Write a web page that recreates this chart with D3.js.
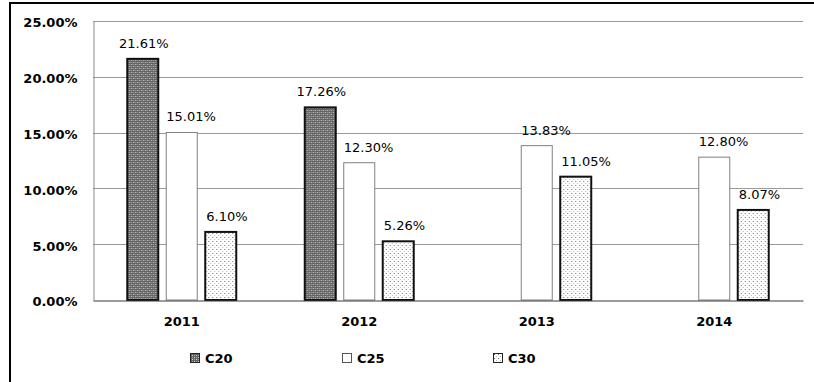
<!DOCTYPE html>
<html>
<head>
<meta charset="utf-8">
<script src="https://cdn.jsdelivr.net/npm/d3@7"></script>
<style>
  html, body { margin: 0; padding: 0; background: #fff; }
  svg { display: block; font-family: "DejaVu Sans", Verdana, sans-serif; }
</style>
</head>
<body>
<svg id="chart" width="814" height="382"></svg>
<script>
// Years on the category axis
const years = ["2011", "2012", "2013", "2014"];
// Series names (concrete grades)
const seriesNames = ["C20", "C25", "C30"];
// Share per year, in percent; null where a grade has no value
const c20Values = [21.61, 17.26, null, null];
const c25Values = [15.01, 12.30, 13.83, 12.80];
const c30Values = [6.10, 5.26, 11.05, 8.07];
// Value-axis ticks
const yTicks = [0, 5, 10, 15, 20, 25];

const seriesValues = { C20: c20Values, C25: c25Values, C30: c30Values };

const svg = d3.select("#chart");
const W = 814, H = 382;
const plot = { left: 93, right: 803, top: 21, bottom: 300 };

// Fill patterns
const defs = svg.append("defs");
const pDark = defs.append("pattern")
  .attr("id", "patDark").attr("patternUnits", "userSpaceOnUse")
  .attr("width", 4).attr("height", 4);
pDark.append("rect").attr("width", 4).attr("height", 4).attr("fill", "#646464");
[[0, 0], [2, 2]].forEach(([x, y]) =>
  pDark.append("rect").attr("x", x).attr("y", y).attr("width", 1).attr("height", 1).attr("fill", "#d4d4d4"));
[[2, 0], [0, 2]].forEach(([x, y]) =>
  pDark.append("rect").attr("x", x).attr("y", y).attr("width", 1).attr("height", 1).attr("fill", "#a0a0a0"));

const pDot = defs.append("pattern")
  .attr("id", "patDot").attr("patternUnits", "userSpaceOnUse")
  .attr("width", 4).attr("height", 4);
pDot.append("rect").attr("width", 4).attr("height", 4).attr("fill", "#ffffff");
pDot.append("rect").attr("x", 1).attr("y", 1).attr("width", 1).attr("height", 1).attr("fill", "#707070");
pDot.append("rect").attr("x", 3).attr("y", 3).attr("width", 1).attr("height", 1).attr("fill", "#b8b8b8");

// Per-series look; label placement: anchor and horizontal nudge from the bar
const styles = {
  C20: { fill: "url(#patDark)", stroke: "#111", sw: 2, anchor: "middle", dx: 1 },
  C25: { fill: "#ffffff", stroke: "#7f7f7f", sw: 1, anchor: "start", dx: 0 },
  C30: { fill: "url(#patDot)", stroke: "#111", sw: 2, anchor: "start", dx: 1 }
};

// Scales
const x0 = d3.scaleBand().domain(years).range([plot.left, plot.right])
  .paddingInner(0.386).paddingOuter(0.193);
const x1 = d3.scaleBand().domain(seriesNames).range([0, x0.bandwidth()])
  .paddingInner(0.205).paddingOuter(0);
const y = d3.scaleLinear().domain([0, 25]).range([plot.bottom, plot.top]);

// Chart frame
svg.append("path")
  .attr("d", `M10,${H + 2} L10,3 L${W + 2},3`)
  .attr("fill", "none").attr("stroke", "#000").attr("stroke-width", 2);

// Gridlines
svg.append("g").selectAll("line").data(yTicks.filter(t => t > 0)).join("line")
  .attr("x1", plot.left).attr("x2", plot.right)
  .attr("y1", d => Math.round(y(d)) + 0.5).attr("y2", d => Math.round(y(d)) + 0.5)
  .attr("stroke", "#9a9a9a").attr("stroke-width", 1);

// Y axis
const yAxis = svg.append("g")
  .attr("transform", `translate(${plot.left + 0.5},0)`)
  .call(d3.axisLeft(y).tickValues(yTicks).tickSize(0).tickPadding(16)
    .tickFormat(d => d3.format(".2f")(d) + "%"));
yAxis.select(".domain").attr("stroke", "#8a8a8a");
yAxis.selectAll("text")
  .attr("dy", "0.45em")
  .attr("font-family", "DejaVu Sans, Verdana, sans-serif")
  .attr("font-size", 13).attr("font-weight", "bold").attr("fill", "#000");

// Bars
const groups = svg.append("g").selectAll("g").data(years).join("g")
  .attr("transform", d => `translate(${x0(d)},0)`);

const rowsFor = (yr, i) => seriesNames
  .map(s => ({ s, v: seriesValues[s][i] }))
  .filter(d => d.v != null);

groups.selectAll("rect")
  .data(rowsFor)
  .join("rect")
  .attr("x", d => x1(d.s))
  .attr("y", d => y(d.v))
  .attr("width", x1.bandwidth())
  .attr("height", d => y(0) - y(d.v))
  .attr("fill", d => styles[d.s].fill)
  .attr("stroke", d => styles[d.s].stroke)
  .attr("stroke-width", d => styles[d.s].sw);

// Value labels
groups.selectAll("text")
  .data(rowsFor)
  .join("text")
  .attr("x", d => (styles[d.s].anchor === "middle"
      ? x1(d.s) + x1.bandwidth() / 2
      : x1(d.s)) + styles[d.s].dx)
  .attr("y", d => y(d.v) - 11)
  .attr("text-anchor", d => styles[d.s].anchor)
  .attr("font-size", 13).attr("fill", "#000")
  .text(d => d3.format(".2f")(d.v) + "%");

// X axis
const xAxis = svg.append("g")
  .attr("transform", `translate(0,${plot.bottom + 0.5})`)
  .call(d3.axisBottom(x0).tickSize(0).tickPadding(16));
xAxis.select(".domain").attr("stroke", "#3a3a3a").attr("stroke-width", 1.2);
xAxis.selectAll("text")
  .attr("font-family", "DejaVu Sans, Verdana, sans-serif")
  .attr("font-size", 13).attr("font-weight", "bold").attr("fill", "#000");

// Legend
const legendX = [190, 342, 493];
const legend = svg.append("g").selectAll("g").data(seriesNames).join("g")
  .attr("transform", (d, i) => `translate(${legendX[i]},353)`);
legend.append("rect")
  .attr("x", 0.5).attr("y", 0.5).attr("width", 9).attr("height", 9)
  .attr("fill", d => styles[d].fill)
  .attr("stroke", d => d === "C25" ? "#555" : "#222").attr("stroke-width", 1);
legend.append("text")
  .attr("x", 15).attr("y", 10)
  .attr("font-size", 13).attr("font-weight", "bold").attr("fill", "#000")
  .text(d => d);
</script>
</body>
</html>
